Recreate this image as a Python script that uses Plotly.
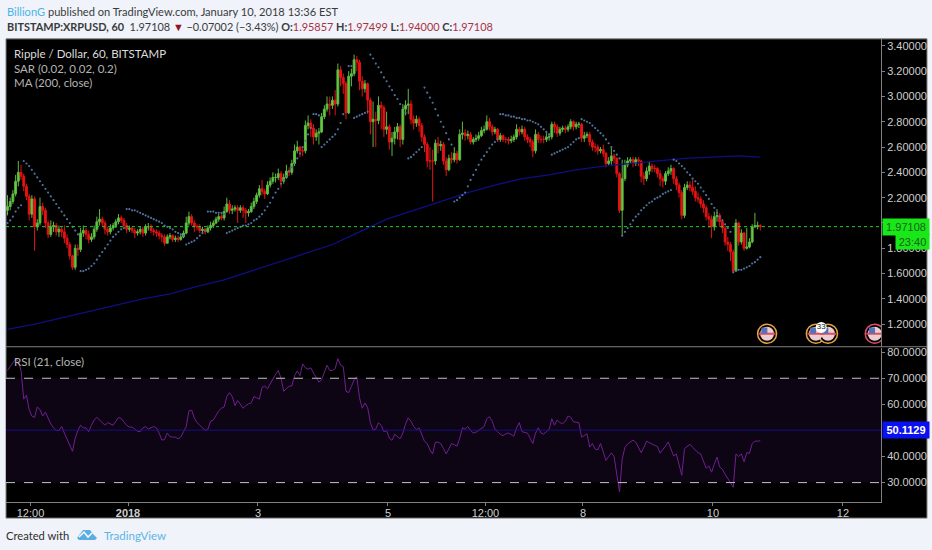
import pandas as pd
import plotly.graph_objects as go

# hourly candles
closes = [
    2.13,2.17,2.23,2.33,2.40,2.37,2.29,2.21,2.07,2.19,
    1.97,2.00,2.13,2.10,2.00,1.91,1.97,1.98,1.93,1.95,
    1.93,1.88,1.83,1.74,1.65,1.80,1.79,1.92,1.94,1.91,
    1.87,1.89,1.95,2.01,2.03,2.00,1.95,1.93,1.96,1.98,
    2.01,2.04,2.02,1.98,1.95,1.96,1.94,1.92,1.93,1.95,
    1.92,1.97,1.97,1.94,1.93,1.92,1.90,1.89,1.84,1.89,
    1.90,1.87,1.88,1.87,1.89,1.92,2.00,2.05,2.00,1.97,
    1.97,1.94,1.95,1.93,1.96,1.98,2.00,2.03,2.05,2.04,
    2.09,2.15,2.10,2.11,2.12,2.10,2.12,2.10,2.08,2.09,
    2.13,2.17,2.22,2.27,2.25,2.23,2.30,2.33,2.36,2.36,
    2.39,2.33,2.36,2.41,2.40,2.47,2.57,2.60,2.57,2.57,
    2.77,2.79,2.75,2.68,2.71,2.72,2.84,2.90,2.94,2.93,
    2.97,2.94,3.21,3.15,3.10,2.87,3.16,3.18,3.29,3.27,
    3.12,3.06,3.10,2.97,2.80,2.82,2.81,2.93,2.91,2.74,
    2.76,2.64,2.67,2.72,2.76,2.66,2.90,2.93,2.94,2.82,
    2.79,2.82,2.77,2.68,2.62,2.49,2.49,2.49,2.63,2.61,
    2.62,2.49,2.42,2.51,2.50,2.55,2.50,2.70,2.71,2.69,
    2.70,2.64,2.66,2.67,2.69,2.73,2.74,2.80,2.76,2.72,
    2.74,2.66,2.69,2.66,2.66,2.65,2.66,2.68,2.74,2.72,
    2.74,2.68,2.66,2.64,2.57,2.70,2.66,2.66,2.66,2.68,
    2.68,2.78,2.76,2.71,2.74,2.75,2.74,2.76,2.80,2.76,
    2.78,2.78,2.67,2.69,2.70,2.64,2.60,2.60,2.57,2.58,
    2.55,2.47,2.49,2.53,2.51,2.39,2.10,2.35,2.46,2.49,
    2.50,2.47,2.50,2.49,2.37,2.35,2.41,2.45,2.43,2.43,
    2.39,2.35,2.33,2.39,2.41,2.43,2.35,2.30,2.24,2.06,
    2.28,2.30,2.28,2.25,2.20,2.19,2.15,2.12,2.05,2.03,
    1.97,2.05,2.06,2.01,1.96,1.85,1.83,1.77,1.62,2.00,
    1.85,1.92,1.80,1.81,1.85,1.97,1.98,1.98,1.97108,
]
highs = [
    2.22,2.20,2.26,2.38,2.49,2.46,2.39,2.31,2.23,2.22,
    2.21,2.03,2.20,2.16,2.12,2.02,2.02,2.01,2.00,1.98,
    1.97,1.98,1.91,1.85,1.75,1.83,1.83,1.96,1.98,1.96,
    1.94,1.92,1.98,2.05,2.11,2.05,2.02,1.97,1.99,2.00,
    2.03,2.07,2.06,2.04,2.00,1.98,1.97,1.96,1.95,1.97,
    1.97,1.99,2.00,1.99,1.96,1.95,1.94,1.92,1.91,1.91,
    1.92,1.91,1.90,1.90,1.91,1.94,2.05,2.09,2.07,2.02,
    1.99,1.99,1.97,1.96,1.98,2.01,2.02,2.05,2.07,2.07,
    2.13,2.20,2.18,2.14,2.14,2.14,2.14,2.14,2.12,2.11,
    2.16,2.20,2.24,2.30,2.34,2.27,2.33,2.36,2.40,2.39,
    2.43,2.41,2.39,2.46,2.44,2.50,2.62,2.65,2.61,2.60,
    2.81,2.85,2.82,2.78,2.74,2.75,2.87,2.93,3.00,3.00,
    3.00,3.05,3.26,3.24,3.18,3.12,3.20,3.22,3.33,3.32,
    3.29,3.16,3.13,3.11,2.99,2.96,2.88,3.00,2.96,2.93,
    2.88,2.78,2.72,2.76,2.79,2.78,2.94,2.97,3.06,2.97,
    2.85,2.85,2.84,2.79,2.70,2.64,2.60,2.58,2.66,2.68,
    2.65,2.64,2.52,2.54,2.56,2.60,2.57,2.74,2.80,2.74,
    2.73,2.72,2.68,2.70,2.72,2.76,2.77,2.85,2.83,2.78,
    2.76,2.75,2.71,2.70,2.68,2.68,2.69,2.70,2.78,2.76,
    2.77,2.76,2.70,2.68,2.66,2.74,2.72,2.69,2.69,2.71,
    2.71,2.80,2.80,2.78,2.76,2.77,2.77,2.78,2.82,2.81,
    2.80,2.80,2.79,2.72,2.72,2.72,2.66,2.63,2.62,2.60,
    2.62,2.56,2.52,2.60,2.55,2.52,2.40,2.50,2.50,2.52,
    2.52,2.52,2.52,2.52,2.50,2.40,2.44,2.49,2.47,2.46,
    2.44,2.42,2.37,2.41,2.44,2.46,2.44,2.37,2.32,2.26,
    2.31,2.33,2.33,2.34,2.29,2.24,2.21,2.18,2.14,2.08,
    2.06,2.09,2.11,2.08,2.03,1.98,1.89,1.85,1.79,2.03,
    2.01,1.95,1.93,1.96,1.88,1.99,2.08,2.01,1.99,
]
lows = [
    2.06,2.10,2.15,2.21,2.29,2.34,2.25,2.18,2.02,2.04,
    1.78,1.94,1.98,2.06,1.96,1.88,1.89,1.93,1.90,1.89,
    1.89,1.84,1.80,1.71,1.63,1.63,1.74,1.77,1.89,1.87,
    1.84,1.85,1.87,1.93,1.98,1.97,1.91,1.90,1.91,1.94,
    1.96,1.99,2.00,1.96,1.92,1.93,1.92,1.88,1.90,1.91,
    1.89,1.90,1.94,1.92,1.90,1.89,1.87,1.85,1.82,1.84,
    1.87,1.85,1.85,1.85,1.86,1.88,1.91,1.98,1.98,1.93,
    1.94,1.92,1.92,1.91,1.92,1.94,1.96,1.99,2.01,2.02,
    2.02,2.08,2.07,2.07,2.09,2.00,2.08,2.04,2.00,2.05,
    2.08,2.11,2.15,2.20,2.22,2.19,2.22,2.28,2.31,2.32,
    2.34,2.28,2.31,2.35,2.37,2.38,2.45,2.55,2.52,2.53,
    2.55,2.74,2.68,2.62,2.65,2.62,2.71,2.82,2.88,2.85,
    2.90,2.85,2.92,3.08,3.02,2.82,2.86,3.08,3.16,3.20,
    3.05,3.00,3.03,2.86,2.70,2.60,2.60,2.78,2.74,2.68,
    2.70,2.58,2.53,2.62,2.66,2.60,2.62,2.85,2.86,2.78,
    2.74,2.76,2.72,2.64,2.56,2.44,2.42,2.17,2.46,2.55,
    2.57,2.46,2.37,2.41,2.47,2.48,2.47,2.49,2.66,2.65,
    2.66,2.62,2.62,2.64,2.65,2.68,2.71,2.73,2.73,2.69,
    2.70,2.64,2.64,2.64,2.63,2.62,2.63,2.64,2.66,2.69,
    2.70,2.65,2.63,2.60,2.52,2.55,2.63,2.63,2.63,2.64,
    2.65,2.66,2.71,2.68,2.69,2.72,2.71,2.72,2.74,2.73,
    2.74,2.75,2.64,2.64,2.67,2.61,2.57,2.56,2.54,2.55,
    2.52,2.44,2.45,2.46,2.47,2.36,2.08,1.90,2.33,2.44,
    2.47,2.44,2.45,2.45,2.32,2.30,2.33,2.38,2.40,2.40,
    2.36,2.29,2.28,2.30,2.37,2.38,2.31,2.26,2.20,2.03,
    2.04,2.26,2.25,2.22,2.17,2.16,2.12,2.08,2.02,1.96,
    1.88,1.94,2.01,1.97,1.92,1.82,1.78,1.70,1.61,1.66,
    1.82,1.83,1.78,1.79,1.80,1.84,1.96,1.95,1.94,
]
first_open = 2.10

sar = [
    2.00,2.02,2.05,2.09,2.12,2.14,2.49,2.47,2.45,2.42,
    2.39,2.36,2.33,2.30,2.27,2.24,2.21,2.18,2.15,2.12,
    2.09,2.06,2.03,2.00,1.97,1.94,1.91,1.62,1.62,1.63,
    1.64,1.66,1.68,1.71,1.74,1.77,1.80,1.83,1.86,1.89,
    1.91,1.93,1.95,1.96,2.11,2.11,2.10,2.10,2.09,2.08,
    2.07,2.06,2.05,2.04,2.03,2.02,2.01,2.00,1.98,1.97,
    1.96,1.95,1.93,1.92,1.91,1.90,1.83,1.84,1.85,1.86,
    1.88,1.90,1.92,1.94,2.09,2.09,2.09,2.08,2.08,2.08,
    2.07,1.92,1.93,1.94,1.95,1.96,1.97,1.98,1.98,1.99,
    2.00,2.02,2.03,2.05,2.07,2.10,2.13,2.16,2.20,2.24,
    2.27,2.31,2.34,2.37,2.41,2.44,2.47,2.51,2.55,2.60,
    2.65,2.70,2.75,2.86,2.86,2.85,2.60,2.62,2.64,2.66,
    2.68,2.70,2.74,2.79,2.86,None,3.24,3.24,2.83,2.84,
    2.85,2.86,2.87,2.88,3.33,3.30,3.26,3.23,3.19,3.15,
    3.12,3.08,3.05,3.01,2.98,2.94,2.91,2.87,2.51,2.52,
    2.54,2.56,2.58,2.60,3.07,3.03,2.99,2.95,2.90,2.85,
    2.80,2.76,2.71,2.66,2.62,2.17,2.18,2.20,2.22,2.24,
    2.29,2.34,2.38,2.42,2.46,2.50,2.53,2.56,2.59,2.62,
    2.64,2.66,2.86,2.86,2.85,2.85,2.84,2.84,2.83,2.83,
    2.82,2.82,2.81,2.81,2.80,2.79,2.78,2.76,2.74,2.72,
    2.70,2.54,2.55,2.56,2.57,2.58,2.59,2.60,2.62,2.64,
    2.66,2.67,2.82,2.81,2.80,2.79,2.77,2.75,2.73,2.71,
    2.69,2.66,2.63,2.60,2.57,2.54,2.51,1.90,1.93,1.96,
    1.99,2.02,2.05,2.07,2.10,2.12,2.14,2.16,2.17,2.19,
    2.20,2.21,2.23,2.24,2.25,2.26,2.50,2.49,2.47,2.45,
    2.43,2.40,2.38,2.35,2.33,2.31,2.28,2.25,2.22,2.19,
    2.15,2.12,2.08,2.05,2.02,1.99,1.96,1.93,1.61,1.62,
    1.63,1.63,1.64,1.65,1.66,1.68,1.69,1.71,1.73,
]

# MA is smooth, one reading every 10 candles is enough
ma_index = [0,10,20,30,40,50,60,70,80,90,100,110,120,130,140,150,160,170,
            180,190,200,210,220,230,240,250,260,270,278]
ma_values = [1.16,1.20,1.25,1.30,1.35,1.40,1.44,1.50,1.55,1.62,1.69,1.76,1.83,1.93,2.03,
             2.10,2.17,2.24,2.30,2.35,2.38,2.42,2.45,2.47,2.49,2.51,2.52,2.53,2.52]

rsi = [
    73,74.5,76,77.5,76.5,73,62,63.5,58,55.5,
    55,59,58,55.5,57,54.5,52.5,51,50,50,
    51.5,49,46.5,44.5,42,47,50,52,51,51,
    49.5,52,54,55,54,53,52,53,52.5,52,
    53.5,55,54.5,53,52,51.3,51.3,50.5,49.7,49.5,
    51,51.5,50.5,51,51.5,51,49,46.3,46.5,49,
    47.6,47.5,47.4,46.8,47.5,49.5,51.5,57.5,57.8,54.8,
    53,52,51,50,50.5,53.5,54,56,57.5,58.5,
    59,63,64.5,63,59.5,61.5,60,58.5,59.5,60.2,
    60.5,63,62.5,62,66.5,67,66,68,69.5,71.5,
    73,70,65,66,67,67,71,72.8,71,75.5,
    74,73.5,74,72,70,68.5,69.5,72,75,73,
    73,73.7,77.5,75,74.5,65,64.5,66.8,69.5,70.5,
    62.5,58.5,60.5,58.8,53,50.2,50.5,53,52,49.5,
    50,47,46.2,48.5,47.5,46.8,49,52.5,54.8,53.5,
    51.5,50.3,51,48,45.8,45,42.5,41,45.5,45.5,
    45,43,41,43,45,44.5,44,47,51,50.5,
    51.5,50,49,49.3,50,51,51.5,54.5,55.3,53.5,
    50.5,49.5,48.5,48,48.7,49,48.5,47.8,51,53,
    49.5,49.3,49,47,45,49,51,49,48.6,49.5,
    50.3,54.5,52,54,53,52.6,53.5,55.5,55,53.3,
    53,53,47.4,48,48.7,43.6,45,42.8,42.6,45,
    42,38.5,40,41.4,40,34,26.4,39,43.5,44.8,
    45.5,46.3,45.5,43.5,41.5,43.5,45.9,45.3,44.8,44.2,
    43.8,41.3,42.5,44,45.6,42.5,40.2,41,36.5,32.8,
    43,43.8,44.7,43.5,42.3,41.5,41,38,35.5,36.4,
    34,37,39.8,36,35.1,33.2,31.5,30,28.2,41,
    40,41,38,41.5,41.2,45,45.9,45.9,46,
]

price_ticks = [1.2,1.4,1.6,1.8,2.0,2.2,2.4,2.6,2.8,3.0,3.2,3.4]
rsi_ticks = [30,40,60,70,80]
time_ticks = ["2017-12-30 12:00","2018-01-01","2018-01-03","2018-01-05","2018-01-06 12:00",
              "2018-01-08","2018-01-10","2018-01-12"]
time_labels = ["12:00","<b>2018</b>","3","5","12:00","8","10","12"]

event_times = ["2018-01-10 20:00","2018-01-11 14:00","2018-01-11 18:30","2018-01-12 11:45"]
event_colors = ["#e8a33d","#e8a33d","#e8a33d","#e0506e"]
event_level = 1.125

last_price = 1.97108
rsi_last = 50.1129

dates = pd.date_range("2017-12-30 03:30", periods=len(closes), freq="h")
opens = [first_open] + closes[:-1]

W, H = 932, 550
FONT = "Lato"
TICK_FONT = "Liberation Sans"


def px(x):
    return x / W


def py(y):
    return 1 - y / H


def label(x, y, text, size=11, color="#d4d4d4", font=FONT, **kw):
    return dict(x=px(x), y=py(y), xref="paper", yref="paper", text=text, showarrow=False,
                xanchor=kw.pop("xanchor", "left"), yanchor="middle",
                font=dict(family=font, size=size, color=color), **kw)


fig = go.Figure()

fig.add_trace(go.Scatter(x=dates[ma_index], y=ma_values, mode="lines",
                         line=dict(color="#0e0e84", width=1.3), yaxis="y"))
fig.add_trace(go.Candlestick(x=dates, open=opens, high=highs, low=lows, close=closes, yaxis="y",
                             whiskerwidth=0,
                             increasing=dict(line=dict(color="#5fb842", width=1), fillcolor="#62d040"),
                             decreasing=dict(line=dict(color="#e01414", width=1), fillcolor="#f01010")))
fig.add_trace(go.Scatter(x=dates, y=sar, mode="markers", yaxis="y",
                         marker=dict(color="#4f729c", size=2.2)))
fig.add_trace(go.Scatter(x=dates, y=rsi, mode="lines", yaxis="y2",
                         line=dict(color="#702090", width=1)))

# event flags along the bottom of the price pane
fig.add_trace(go.Scatter(x=event_times, y=[event_level] * 4, mode="markers", yaxis="y",
                         marker=dict(size=19, color="#000000", line=dict(color=event_colors, width=1.5))))
fig.add_trace(go.Scatter(x=event_times, y=[event_level] * 4, mode="markers", yaxis="y",
                         marker=dict(size=14, color="#eccdd2")))
fig.add_trace(go.Scatter(x=event_times, y=[event_level] * 4, mode="markers", yaxis="y",
                         marker=dict(size=12, symbol="line-ew", line=dict(color="#d8505e", width=2))))
fig.add_trace(go.Scatter(x=pd.to_datetime(event_times) - pd.Timedelta(hours=1), y=[event_level + 0.025] * 4,
                         mode="markers", yaxis="y",
                         marker=dict(size=6, symbol="square", color="#5472b8")))
fig.add_trace(go.Scatter(x=["2018-01-11 16:00"], y=[1.175], mode="markers+text", yaxis="y", text=["33"],
                         textposition="middle center", textfont=dict(size=8, color="#111", family=TICK_FONT),
                         marker=dict(size=11, color="white")))

shapes = [
    # black chart area
    dict(type="rect", xref="paper", yref="paper", x0=px(6), x1=px(927), y0=py(518), y1=py(37),
         fillcolor="black", line=dict(color="#808080", width=1), layer="below"),
    # RSI band
    dict(type="rect", xref="paper", yref="y2", x0=px(6), x1=px(881), y0=30, y1=70,
         fillcolor="#0d0414", line=dict(width=0), layer="below"),
    dict(type="line", xref="paper", yref="y2", x0=px(6), x1=px(881), y0=70, y1=70,
         line=dict(color="#c4c4c4", width=1, dash="dash")),
    dict(type="line", xref="paper", yref="y2", x0=px(6), x1=px(881), y0=30, y1=30,
         line=dict(color="#c4c4c4", width=1, dash="dash")),
    dict(type="line", xref="paper", yref="y2", x0=px(6), x1=px(881), y0=rsi_last, y1=rsi_last,
         line=dict(color="#1c10a0", width=0.8)),
    dict(type="line", xref="paper", yref="y", x0=px(6), x1=px(881), y0=last_price, y1=last_price,
         line=dict(color="#25d025", width=1, dash="dot")),
    # pane divider
    dict(type="line", xref="paper", yref="paper", x0=px(6), x1=px(927), y0=py(346), y1=py(346),
         line=dict(color="#808080", width=1)),
    # TradingView logo
    dict(type="path", xref="paper", yref="paper", fillcolor="#5aaee2", line=dict(width=0),
         path=f"M {px(77)} {py(538)} L {px(83)} {py(530)} L {px(90)} {py(530)} L {px(93)} {py(534)} "
              f"L {px(97)} {py(538)} L {px(95)} {py(540)} L {px(79)} {py(540)} Z"),
    dict(type="path", xref="paper", yref="paper", line=dict(color="white", width=1.5),
         path=f"M {px(79)} {py(537)} L {px(84)} {py(532)} L {px(88)} {py(537)} L {px(92)} {py(533)}"),
]

annotations = [
    label(5, 9.5, "<span style='color:#4db4e8'>BillionG</span> published on TradingView.com, January 10, 2018 13:36 EST",
          size=11.1, color="#3a3a3a"),
    label(5, 25, "<b>BITSTAMP:XRPUSD, 60</b>  1.97108 <span style='color:#8f1520'>▼</span> −0.07002 (−3.43%) "
                 "<b>O:</b><span style='color:#a8323e'>1.95857</span> <b>H:</b><span style='color:#a8323e'>1.97499</span> "
                 "<b>L:</b><span style='color:#a8323e'>1.94000</span> <b>C:</b><span style='color:#a8323e'>1.97108</span>",
          size=10.9, color="#3a3a3a"),
    label(12, 51.5, "Ripple / Dollar, 60, BITSTAMP", size=11.5, color="#dcdcdc"),
    label(12, 66.5, "SAR (0.02, 0.02, 0.2)", size=11.5, color="#b4b4b4"),
    label(12, 81, "MA (200, close)", size=11.5, color="#b4b4b4"),
    label(12, 360.5, "RSI (21, close)", size=11.5, color="#b4b4b4"),
    label(4, 535, "Created with", size=11.2, color="#2e2e2e"),
    label(102, 535, "TradingView", size=11.5, color="#5eb3e6"),
    # price tags on the right axis
    dict(x=px(882), y=last_price, xref="paper", yref="y", text=f"{last_price:.5f}", showarrow=False,
         xanchor="left", yanchor="middle", bgcolor="#18e818", width=44, height=14, align="center",
         font=dict(family=TICK_FONT, size=11, color="#1c5c1c")),
    dict(x=px(895), y=py(240), xref="paper", yref="paper", text="23:40", showarrow=False,
         xanchor="left", yanchor="middle", bgcolor="#18e818", width=31, height=13, align="center",
         font=dict(family=TICK_FONT, size=11, color="#1c5c1c")),
    dict(x=px(882), y=rsi_last, xref="paper", yref="y2", text=f"<b>{rsi_last:.4f}</b>", showarrow=False,
         xanchor="left", yanchor="middle", bgcolor="#0a10f0", width=44, height=14, align="center",
         font=dict(family=TICK_FONT, size=11, color="white")),
]

tick_style = dict(side="right", showgrid=False, zeroline=False, showline=True, linecolor="#808080", linewidth=1,
                  ticks="outside", ticklen=3, tickcolor="#808080",
                  tickfont=dict(family=TICK_FONT, size=11, color="#cfcfcf"))

fig.update_layout(
    width=W, height=H, margin=dict(l=0, r=0, t=0, b=0), showlegend=False,
    paper_bgcolor="#f0f3fa", plot_bgcolor="rgba(0,0,0,0)", boxgap=0.02,
    shapes=shapes, annotations=annotations,
    xaxis=dict(domain=[px(6), px(881)], anchor="y2", type="date",
               range=["2017-12-30 02:57", "2018-01-12 14:04"], rangeslider=dict(visible=False),
               showgrid=False, zeroline=False, showline=True, linecolor="#808080",
               tickmode="array", tickvals=time_ticks, ticktext=time_labels,
               ticks="outside", ticklen=3, tickcolor="#808080", ticklabelstandoff=-2,
               tickfont=dict(family=TICK_FONT, size=11, color="#cfcfcf")),
    yaxis=dict(domain=[py(346), py(37)], range=[1.022, 3.455], anchor="x",
               tickmode="array", tickvals=price_ticks, tickformat=".5f", **tick_style),
    yaxis2=dict(domain=[py(502), py(347)], range=[22.5, 81.7], anchor="x",
                tickmode="array", tickvals=rsi_ticks, tickformat=".4f", **tick_style),
)

# the page default body margin would push the chart 8px off
fig.write_html("out.html", config={"displayModeBar": False},
               post_script="document.body.style.margin='0'")
